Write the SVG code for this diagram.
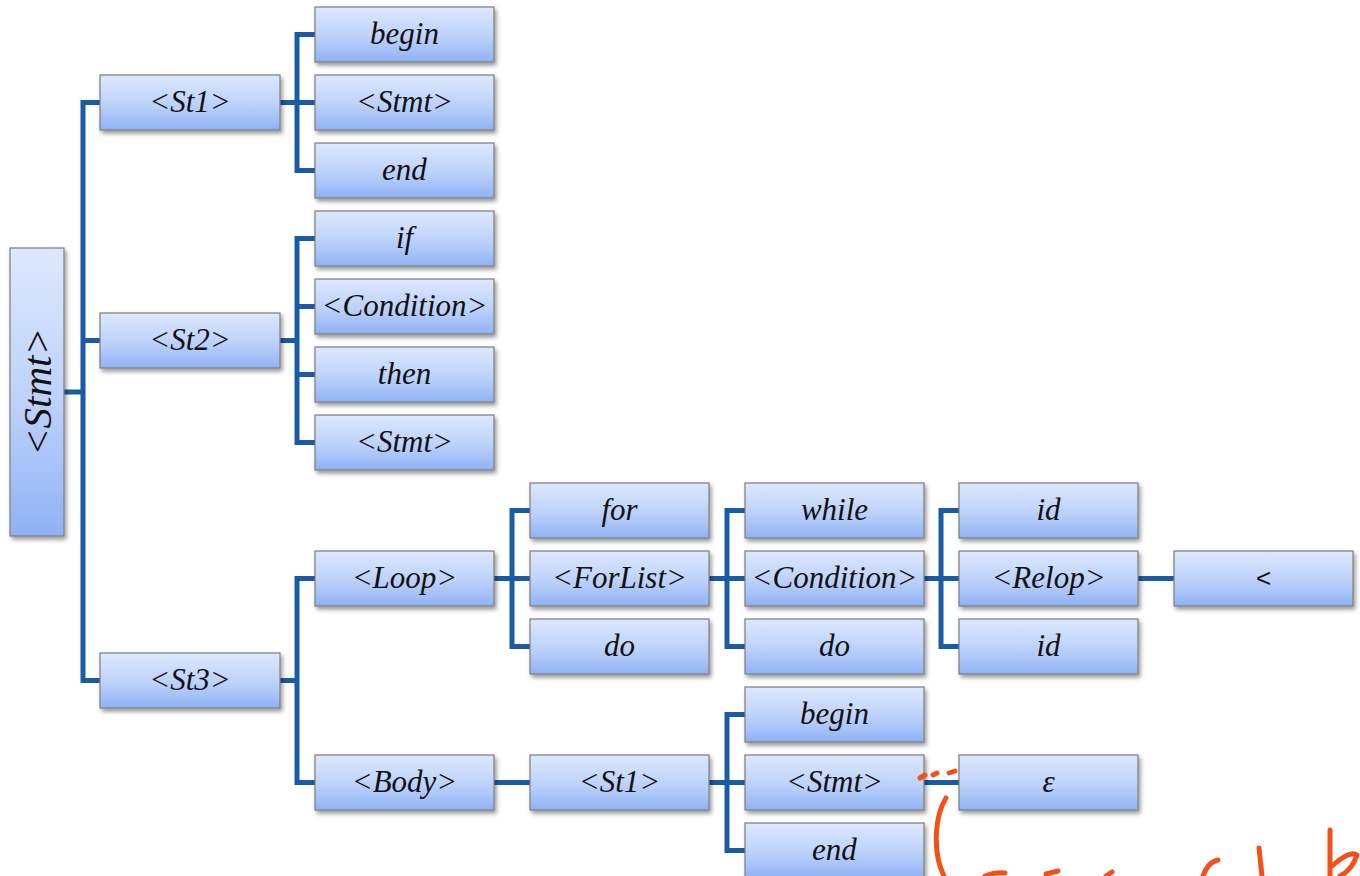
<svg xmlns="http://www.w3.org/2000/svg" width="1360" height="876" viewBox="0 0 1360 876">
<defs>
<linearGradient id="g" x1="0" y1="0" x2="0" y2="1">
<stop offset="0" stop-color="#dde8fd"/>
<stop offset="0.55" stop-color="#bcd1fa"/>
<stop offset="1" stop-color="#8fb2f5"/>
</linearGradient>
<filter id="sh" x="-10%" y="-10%" width="130%" height="140%">
<feDropShadow dx="2" dy="3" stdDeviation="2" flood-color="#000" flood-opacity="0.4"/>
</filter>
</defs>
<style>
.b{fill:url(#g);stroke:#7d7d7d;stroke-width:1.2;filter:url(#sh)}
.t{font-family:"Liberation Serif",serif;font-style:italic;font-size:31px;fill:#111;text-anchor:middle}
.c{fill:none;stroke:#1a5ba6;stroke-width:5;stroke-linejoin:miter}
.r{fill:none;stroke:#f2521a;stroke-width:5;stroke-linecap:round;stroke-linejoin:round}
</style>
<rect width="1360" height="876" fill="#fff"/>
<g id="connectors">
<path class="c" d="M100,102.5 H83 V680.5 H100 M64,392 H83 M83,340.5 H100"/>
<path class="c" d="M280,102.5 H297 M315,34.5 H297 V170.5 H315 M297,102.5 H315"/>
<path class="c" d="M280,340.5 H297 M315,238.5 H297 V442.5 H315 M297,306.5 H315 M297,374.5 H315"/>
<path class="c" d="M280,680.5 H297 M315,578.5 H297 V782.5 H315"/>
<path class="c" d="M494,578.5 H530 M530,510.5 H512 V646.5 H530"/>
<path class="c" d="M709,578.5 H745 M745,510.5 H727 V646.5 H745"/>
<path class="c" d="M924,578.5 H959 M959,510.5 H941 V646.5 H959"/>
<path class="c" d="M1138,578.5 H1174"/>
<path class="c" d="M494,782.5 H530"/>
<path class="c" d="M709,782.5 H745 M745,714.5 H727 V850.5 H745"/>
<path class="c" d="M924,782.5 H959"/>
</g>
<g id="root"><rect class="b" x="10" y="248" width="54" height="288"/><text class="t" style="font-size:41px" transform="translate(37,392) rotate(-90)" y="14">&lt;Stmt&gt;</text></g>
<g id="st1"><rect class="b" x="100" y="75" width="180" height="55"/><text class="t" x="190" y="112">&lt;St1&gt;</text></g>
<g id="st2"><rect class="b" x="100" y="313" width="180" height="55"/><text class="t" x="190" y="350">&lt;St2&gt;</text></g>
<g id="st3"><rect class="b" x="100" y="653" width="180" height="55"/><text class="t" x="190" y="690">&lt;St3&gt;</text></g>
<g id="begin1"><rect class="b" x="315" y="7" width="179" height="55"/><text class="t" x="404.5" y="44">begin</text></g>
<g id="stmt1"><rect class="b" x="315" y="75" width="179" height="55"/><text class="t" x="404.5" y="112">&lt;Stmt&gt;</text></g>
<g id="end1"><rect class="b" x="315" y="143" width="179" height="55"/><text class="t" x="404.5" y="180">end</text></g>
<g id="if"><rect class="b" x="315" y="211" width="179" height="55"/><text class="t" x="404.5" y="248">if</text></g>
<g id="cond1"><rect class="b" x="315" y="279" width="179" height="55"/><text class="t" x="404.5" y="316">&lt;Condition&gt;</text></g>
<g id="then"><rect class="b" x="315" y="347" width="179" height="55"/><text class="t" x="404.5" y="384">then</text></g>
<g id="stmt2"><rect class="b" x="315" y="415" width="179" height="55"/><text class="t" x="404.5" y="452">&lt;Stmt&gt;</text></g>
<g id="loop"><rect class="b" x="315" y="551" width="179" height="55"/><text class="t" x="404.5" y="588">&lt;Loop&gt;</text></g>
<g id="body"><rect class="b" x="315" y="755" width="179" height="55"/><text class="t" x="404.5" y="792">&lt;Body&gt;</text></g>
<g id="for"><rect class="b" x="530" y="483" width="179" height="55"/><text class="t" x="619.5" y="520">for</text></g>
<g id="forlist"><rect class="b" x="530" y="551" width="179" height="55"/><text class="t" x="619.5" y="588">&lt;ForList&gt;</text></g>
<g id="do1"><rect class="b" x="530" y="619" width="179" height="55"/><text class="t" x="619.5" y="656">do</text></g>
<g id="st1b"><rect class="b" x="530" y="755" width="179" height="55"/><text class="t" x="619.5" y="792">&lt;St1&gt;</text></g>
<g id="while"><rect class="b" x="745" y="483" width="179" height="55"/><text class="t" x="834.5" y="520">while</text></g>
<g id="cond2"><rect class="b" x="745" y="551" width="179" height="55"/><text class="t" x="834.5" y="588">&lt;Condition&gt;</text></g>
<g id="do2"><rect class="b" x="745" y="619" width="179" height="55"/><text class="t" x="834.5" y="656">do</text></g>
<g id="begin2"><rect class="b" x="745" y="687" width="179" height="55"/><text class="t" x="834.5" y="724">begin</text></g>
<g id="stmt3"><rect class="b" x="745" y="755" width="179" height="55"/><text class="t" x="834.5" y="792">&lt;Stmt&gt;</text></g>
<g id="end2"><rect class="b" x="745" y="823" width="179" height="55"/><text class="t" x="834.5" y="860">end</text></g>
<g id="id1"><rect class="b" x="959" y="483" width="179" height="55"/><text class="t" x="1048.5" y="520">id</text></g>
<g id="relop"><rect class="b" x="959" y="551" width="179" height="55"/><text class="t" x="1048.5" y="588">&lt;Relop&gt;</text></g>
<g id="id2"><rect class="b" x="959" y="619" width="179" height="55"/><text class="t" x="1048.5" y="656">id</text></g>
<g id="eps"><rect class="b" x="959" y="755" width="179" height="55"/><text class="t" x="1048.5" y="792">ε</text></g>
<g id="lt"><rect class="b" x="1174" y="551" width="179" height="55"/><text class="t" style="font-family:'Liberation Sans',sans-serif;font-style:normal;font-size:26px" x="1263.5" y="587">&lt;</text></g>
<g id="annotation">
<path class="r" d="M920,778 L925,775 M933,775 L937,773 M949,773 L955,771"/>
<path class="r" d="M946,798 C935,815 932,852 944,876"/>
<path class="r" d="M985,876 Q995,872 1005,873 M1046,874 L1058,871 M1106,876 L1112,872"/>
<path class="r" d="M1203,876 Q1208,862 1218,860"/>
<path class="r" d="M1259,848 L1262,876"/>
<path class="r" d="M1330,830 L1330,876 M1332,866 Q1350,850 1357,855 Q1352,870 1340,876"/>
</g>
</svg>
